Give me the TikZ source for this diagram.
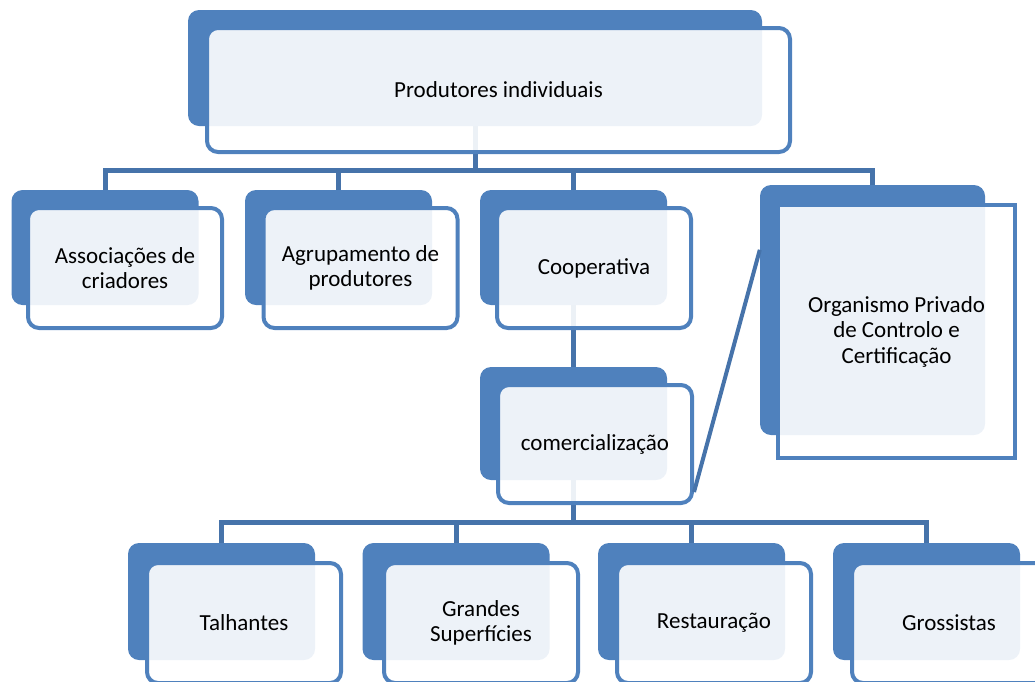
\documentclass[tikz,border=0pt]{standalone}
\usepackage{fontspec}
\setmainfont{Carlito}
\usetikzlibrary{calc,backgrounds}
\definecolor{boxblue}{HTML}{4F81BD}
\definecolor{linkblue}{HTML}{4673AA}

\begin{document}
\begin{tikzpicture}[x=1pt,y=-1pt,
  backbox/.style={fill=boxblue,rounded corners=11pt,minimum width=187pt,minimum height=115pt,inner sep=0pt},
  frontbox/.style={draw=boxblue,line width=4pt,fill=white,fill opacity=0.9,text opacity=1,
    rounded corners=11pt,minimum width=194pt,minimum height=120pt,align=center,
    font=\fontsize{23}{25.5}\selectfont,inner sep=0pt},
  link/.style={draw=linkblue,line width=5pt}]
  \useasboundingbox (0,0) rectangle (1035,681);

  \node[backbox,minimum width=574pt,minimum height=116pt] (topB) at (475,68) {};
  \node[backbox] (assocB) at (105,247.5) {};
  \node[backbox] (agrupB) at (338.5,247.5) {};
  \node[backbox] (coopB) at (573.5,247.5) {};
  \node[backbox,minimum width=225pt,minimum height=250pt] (orgB) at (872.5,310) {};
  \node[backbox,minimum height=113pt] (comB) at (573.5,423.5) {};
  \node[backbox,minimum height=117pt] (talhB) at (221.5,601.5) {};
  \node[backbox,minimum height=117pt] (grandB) at (456,601.5) {};
  \node[backbox,minimum height=117pt] (restB) at (691.5,601.5) {};
  \node[backbox,minimum height=117pt] (grossB) at (926.5,601.5) {};

  \node[frontbox,minimum width=583pt,minimum height=124pt] (top) at (498.5,90) {Produtores individuais};
  \node[frontbox] (assoc) at (125,268) {Associações de\\criadores};
  \node[frontbox] (agrup) at (360.5,268) {Agrupamento de\\produtores};
  \node[frontbox] (coop) at (594,268) {Cooperativa};
  \node[frontbox,rounded corners=0pt,minimum width=237pt,minimum height=253pt] (org) at (896.5,331.5)
    {Organismo Privado\\de Controlo e\\Certificação};
  \node[frontbox,minimum height=118pt] (com) at (595,444) {comercialização};
  \node[frontbox] (talh) at (244,623) {Talhantes};
  \node[frontbox] (grand) at (481,623) {Grandes\\Superfícies};
  \node[frontbox] (rest) at (714,623) {Restauração};
  \node[frontbox] (gross) at (949,623) {Grossistas};

  \coordinate (topbus) at (475,170);
  \coordinate (combus) at (573.5,522);

  \begin{scope}[on background layer]
    \foreach \n in {assocB,agrupB,coopB,orgB}
      \draw[link] (topB.south) -- (topbus) -| (\n.north);
    \draw[link] (coopB.south) -- (comB.north);
    \foreach \n in {talhB,grandB,restB,grossB}
      \draw[link] (comB.south) -- (combus) -| (\n.north);
  \end{scope}
  \draw[link,line width=4pt] ($(com.south east)+(0,-13)$) -- ($(orgB.north west)+(0,65)$);
\end{tikzpicture}
\end{document}
